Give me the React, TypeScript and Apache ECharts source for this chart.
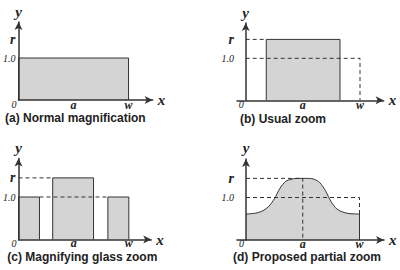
import React, { useEffect, useRef } from "react";
import * as echarts from "echarts";

const R = 1.45;
const tickValuesX = [0, 0.5, 1];
const tickNamesX = ["0", "a", "w"];
const tickValuesY = [1, R];
const tickNamesY = ["1.0", "r"];
const captions = [
  "(a) Normal magnification",
  "(b) Usual zoom",
  "(c) Magnifying glass zoom",
  "(d) Proposed partial zoom",
];

const rectA = [[0, 0], [0, 1], [1, 1], [1, 0]];
const rectB = [[0.18, 0], [0.18, R], [0.825, R], [0.825, 0]];
const dashB1 = [[0, R], [0.18, R]];
const dashB2 = [[0, 1], [1, 1], [1, 0]];
const barC1 = [[0, 0], [0, 1], [0.19, 1], [0.19, 0]];
const barC2 = [[0.31, 0], [0.31, R], [0.68, R], [0.68, 0]];
const barC3 = [[0.81, 0], [0.81, 1], [1, 1], [1, 0]];
const dashC1 = [[0, R], [0.31, R]];
const dashC2 = [[0.19, 1], [0.81, 1]];
const curveD = [
  [0, 0.61], [0.05, 0.62], [0.1, 0.64], [0.15, 0.69], [0.2, 0.79], [0.25, 0.97],
  [0.3, 1.22], [0.35, 1.38], [0.4, 1.43], [0.45, 1.45], [0.5, 1.45], [0.55, 1.45],
  [0.6, 1.43], [0.65, 1.35], [0.7, 1.16], [0.75, 0.9], [0.8, 0.73], [0.85, 0.66],
  [0.9, 0.625], [0.95, 0.615], [1, 0.61],
];
const edgeD = [[1, 0], [1, 0.61]];
const dashD1 = [[0, R], [0.5, R], [0.5, 0]];
const dashD2 = [[0, 1], [1, 1], [1, 0.61]];

const panels = [
  { ox: 14.3, oy: 100, ux: 113.5, uy: 42, xmin: 0, xmax: 1.219, ymax: 1.857, cap: [5, 118], lm: 4.5 },
  { ox: 245.7, oy: 100.3, ux: 114.3, uy: 42, xmin: -0.076, xmax: 1.207, ymax: 1.84, cap: [240, 118.5], lm: 4.5 },
  { ox: 14.7, oy: 239.5, ux: 113.5, uy: 42.5, xmin: 0, xmax: 1.203, ymax: 1.906, cap: [7.3, 257], lm: 3.5 },
  { ox: 246, oy: 240, ux: 113.5, uy: 42.5, xmin: -0.08, xmax: 1.216, ymax: 1.906, cap: [233, 256.5], lm: 3.5 },
];

const INK = "#333";
const FILL = "#d4d4d4";
const SERIF = '"Liberation Serif", "DejaVu Serif", serif';

function shape(data: number[][], g: number, smooth: number | boolean = false) {
  return {
    type: "line",
    xAxisIndex: g,
    yAxisIndex: g,
    data,
    symbol: "none",
    smooth,
    silent: true,
    z: 2,
    lineStyle: { color: INK, width: 1 },
    areaStyle: { color: FILL, opacity: 1 },
  };
}
function edge(data: number[][], g: number) {
  return {
    type: "line",
    xAxisIndex: g,
    yAxisIndex: g,
    data,
    symbol: "none",
    silent: true,
    z: 3,
    lineStyle: { color: INK, width: 1 },
  };
}
function dash(data: number[][], g: number) {
  return {
    type: "line",
    xAxisIndex: g,
    yAxisIndex: g,
    data,
    symbol: "none",
    silent: true,
    z: 4,
    lineStyle: { color: INK, width: 1, type: [4, 3] },
  };
}

export default function App() {
  const ref = useRef<HTMLDivElement>(null);
  useEffect(() => {
    if (!ref.current) return;
    const chart = echarts.init(ref.current, null, { renderer: "svg" });
    const grid = panels.map((p) => ({
      left: p.ox + p.xmin * p.ux,
      top: p.oy - p.ymax * p.uy,
      width: (p.xmax - p.xmin) * p.ux,
      height: p.ymax * p.uy,
      containLabel: false,
    }));
    const axisLine = {
      show: true,
      onZero: true,
      symbol: ["none", "arrow"],
      symbolSize: [6, 8],
      lineStyle: { color: INK, width: 1.5 },
    };
    const nameStyle = {
      fontFamily: SERIF,
      fontStyle: "italic",
      fontWeight: "bold",
      fontSize: 15,
      color: "#222",
    };
    const rich = {
      z: { fontFamily: SERIF, fontStyle: "italic", fontSize: 10, color: "#222", padding: [0, 9, 0, 0] },
      l: { fontFamily: SERIF, fontStyle: "italic", fontWeight: "bold", fontSize: 12, color: "#222" },
      n: { fontFamily: SERIF, fontStyle: "italic", fontSize: 10, color: "#222" },
      r: { fontFamily: SERIF, fontStyle: "italic", fontWeight: "bold", fontSize: 14, color: "#222" },
    };
    const xAxis = panels.map((p, i) => ({
      gridIndex: i,
      type: "value",
      min: p.xmin,
      max: p.xmax,
      z: 10,
      axisLine,
      axisTick: { show: false },
      splitLine: { show: false },
      axisLabel: {
        customValues: tickValuesX,
        margin: p.lm,
        verticalAlign: "middle",
        formatter: (v: number) => {
          const k = tickValuesX.indexOf(v);
          if (k < 0) return "";
          return k === 0 ? `{z|${tickNamesX[k]}}` : `{l|${tickNamesX[k]}}`;
        },
        rich,
      },
      name: "x",
      nameLocation: "end",
      nameGap: 5,
      nameTextStyle: nameStyle,
    }));
    const yAxis = panels.map((p, i) => ({
      gridIndex: i,
      type: "value",
      min: 0,
      max: p.ymax,
      z: 10,
      axisLine,
      axisTick: { show: false },
      splitLine: { show: false },
      axisLabel: {
        customValues: tickValuesY,
        margin: 3,
        formatter: (v: number) => {
          const k = tickValuesY.indexOf(v);
          if (k < 0) return "";
          return k === 0 ? `{n|${tickNamesY[k]}}` : `{r|${tickNamesY[k]}}`;
        },
        rich,
      },
      name: "y",
      nameLocation: "end",
      nameGap: 3,
      nameTextStyle: nameStyle,
    }));
    const series = [
      shape(rectA, 0),
      shape(rectB, 1),
      dash(dashB1, 1),
      dash(dashB2, 1),
      shape(barC1, 2),
      shape(barC2, 2),
      shape(barC3, 2),
      dash(dashC1, 2),
      dash(dashC2, 2),
      shape(curveD, 3, 0.3),
      edge(edgeD, 3),
      dash(dashD1, 3),
      dash(dashD2, 3),
    ];
    const graphic = captions.map((t, i) => ({
      type: "text",
      x: panels[i].cap[0],
      y: panels[i].cap[1],
      silent: true,
      style: {
        text: t,
        fill: "#222",
        font: 'bold 12px "Liberation Sans", Arial, sans-serif',
        verticalAlign: "middle",
        align: "left",
      },
    }));
    chart.setOption({
      animation: false,
      backgroundColor: "#fff",
      grid,
      xAxis,
      yAxis,
      series,
      graphic,
    } as any);
    return () => chart.dispose();
  }, []);
  return (
    <div
      ref={ref}
      style={{ position: "fixed", left: 0, top: 0, width: 400, height: 270, background: "#fff" }}
    />
  );
}
